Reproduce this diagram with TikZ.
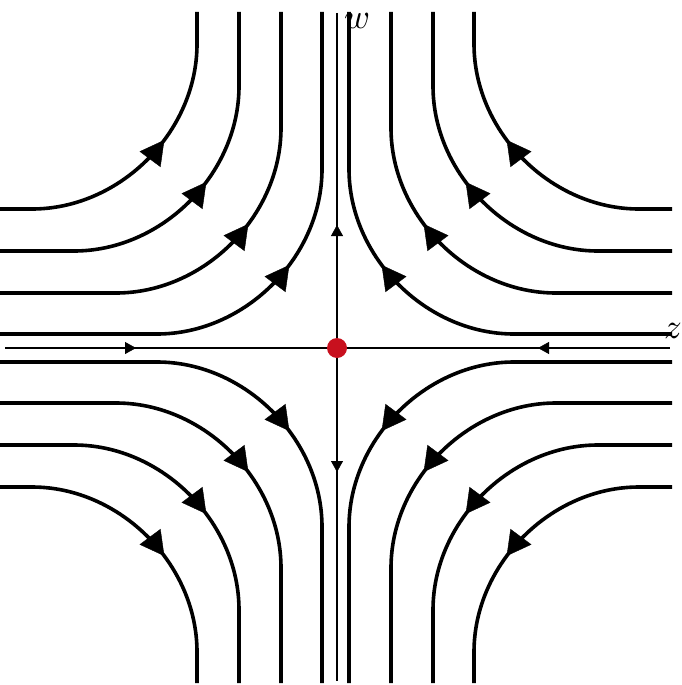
\documentclass[tikz,border=0pt]{standalone}
\usetikzlibrary{arrows.meta,decorations.markings}
\definecolor{dotred}{RGB}{200,16,30}
\tikzset{
  flow/.style={line width=3.6pt, black},
  flowmark/.style={decoration={markings, mark=at position #1 with {\arrow{Triangle[length=24pt,width=26pt]}}}, decorate},
  axisline/.style={line width=1.4pt, black},
  axismark/.style={decoration={markings, mark=at position #1 with {\arrow{Triangle[length=11pt,width=12pt]}}}, decorate},
  lbl/.style={inner sep=0pt}
}
\begin{document}
\begin{tikzpicture}[x=1pt,y=-1pt]
\useasboundingbox (0,0) rectangle (682,685);
\def\R{165}
\def\C{88}
% top-left quadrant: horizontal line Y, vertical line X, flow left -> top
\foreach \X/\Y in {197/209, 239/251, 281/293, 322/334}{
  \draw[flow] (0,\Y) -- (\X-\R,\Y) .. controls (\X-\R+\C,\Y) and (\X,\Y-\R+\C) .. (\X,\Y-\R) -- (\X,12);
  \path[flowmark=0.6] (\X-\R,\Y) .. controls (\X-\R+\C,\Y) and (\X,\Y-\R+\C) .. (\X,\Y-\R);
}
% top-right quadrant: flow right -> top
\foreach \X/\Y in {474/209, 433/251, 391/293, 349/334}{
  \draw[flow] (672,\Y) -- (\X+\R,\Y) .. controls (\X+\R-\C,\Y) and (\X,\Y-\R+\C) .. (\X,\Y-\R) -- (\X,12);
  \path[flowmark=0.6] (\X+\R,\Y) .. controls (\X+\R-\C,\Y) and (\X,\Y-\R+\C) .. (\X,\Y-\R);
}
% bottom-left quadrant: flow left -> bottom
\foreach \X/\Y in {197/487, 239/445, 281/403, 322/362}{
  \draw[flow] (0,\Y) -- (\X-\R,\Y) .. controls (\X-\R+\C,\Y) and (\X,\Y+\R-\C) .. (\X,\Y+\R) -- (\X,683);
  \path[flowmark=0.6] (\X-\R,\Y) .. controls (\X-\R+\C,\Y) and (\X,\Y+\R-\C) .. (\X,\Y+\R);
}
% bottom-right quadrant: flow right -> bottom
\foreach \X/\Y in {474/487, 433/445, 391/403, 349/362}{
  \draw[flow] (672,\Y) -- (\X+\R,\Y) .. controls (\X+\R-\C,\Y) and (\X,\Y+\R-\C) .. (\X,\Y+\R) -- (\X,683);
  \path[flowmark=0.6] (\X+\R,\Y) .. controls (\X+\R-\C,\Y) and (\X,\Y+\R-\C) .. (\X,\Y+\R);
}
% axes
\coordinate (O) at (337,348);
\coordinate (L) at (5,348);
\coordinate (Rt) at (670,348);
\coordinate (T) at (337,13);
\coordinate (B) at (337,681);
\draw[axisline] (L) -- (Rt);
\draw[axisline] (T) -- (B);
\path[axismark=131pt] (L) -- (O);
\path[axismark=132pt] (Rt) -- (O);
\path[axismark=123pt] (O) -- (T);
\path[axismark=124pt] (O) -- (B);
\node[circle, fill=dotred, minimum size=20pt, inner sep=0pt] (dot) at (O) {};
\node[lbl] (w) at (357,21) {\scalebox{3.5}{$w$}};
\node[lbl] (z) at (673,331) {\scalebox{3.5}{$z$}};
\end{tikzpicture}
\end{document}
